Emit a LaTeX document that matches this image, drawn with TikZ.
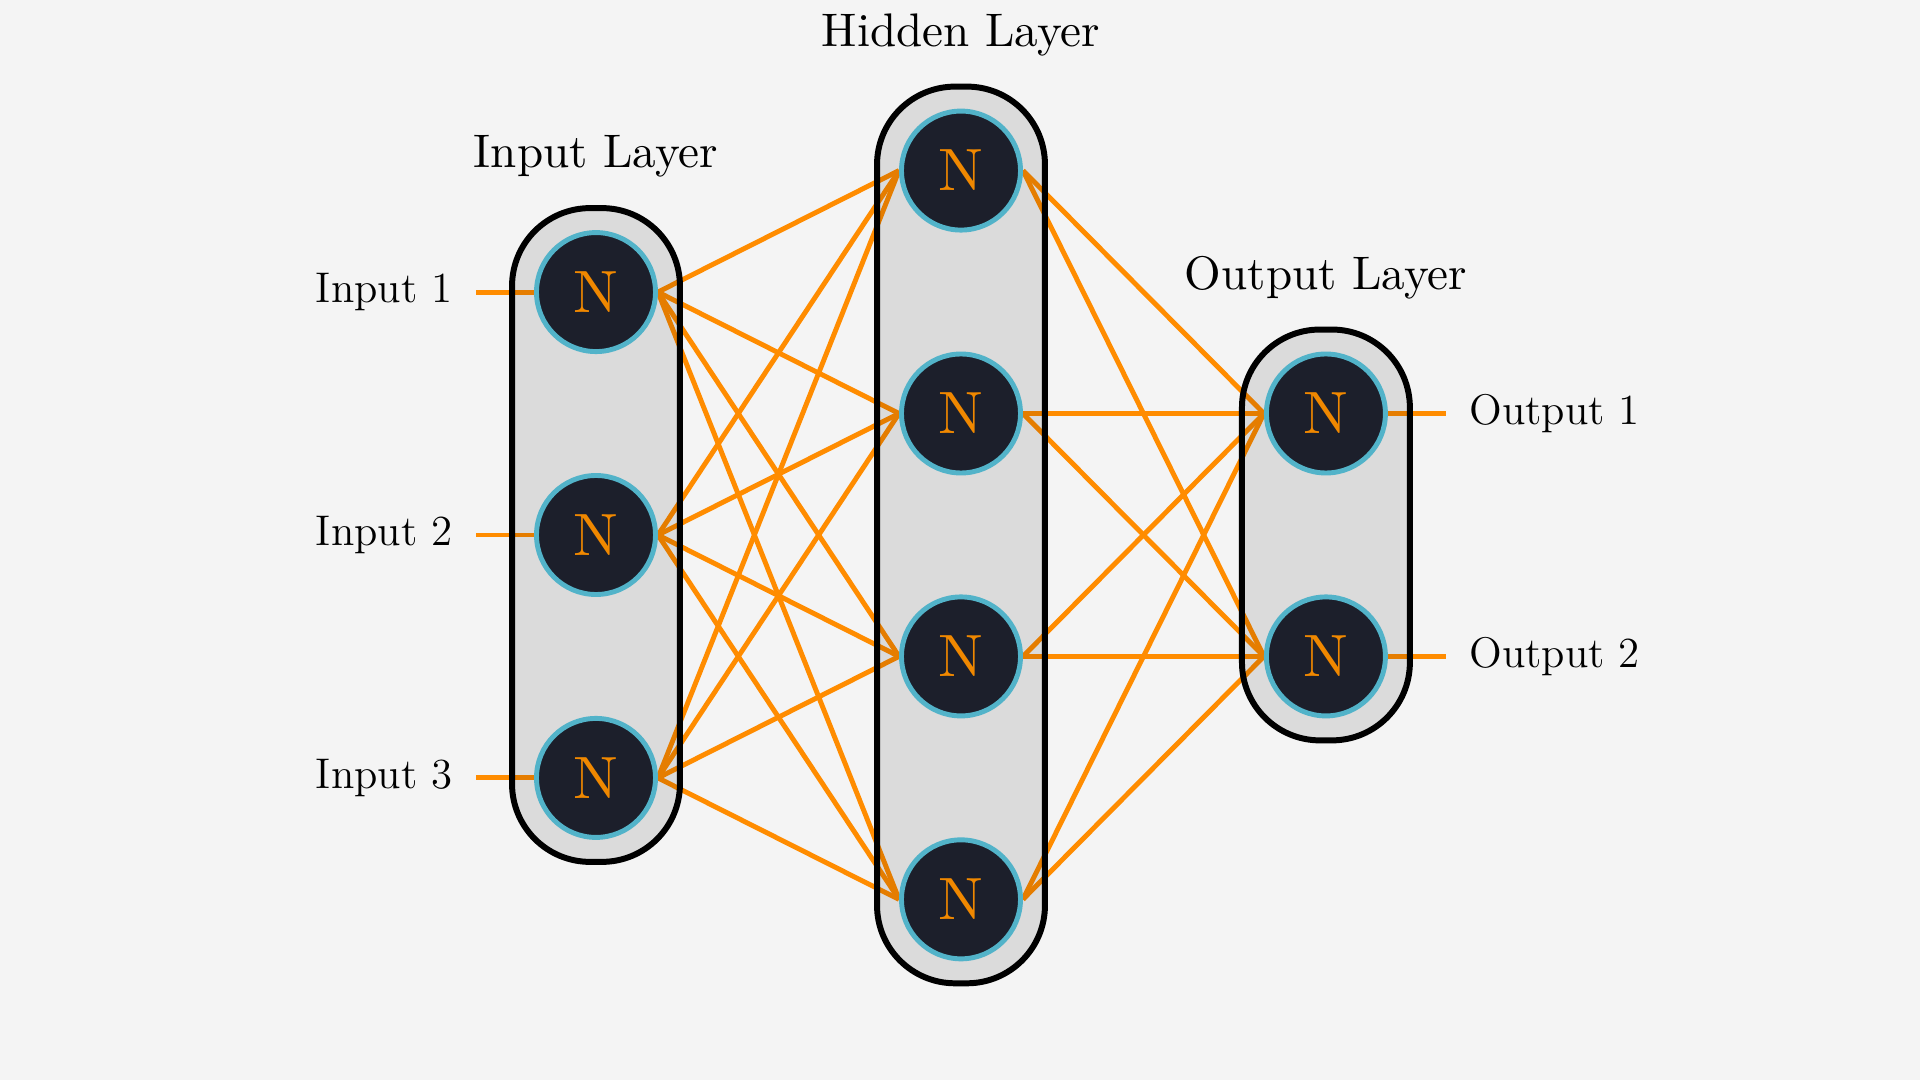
\documentclass[tikz,border=0pt]{standalone}
\usepackage{tikz}
\usetikzlibrary{positioning,fit}
\definecolor{bgcol}{HTML}{F4F4F4}
\definecolor{navy}{HTML}{1C1F2B}
\definecolor{ringblue}{HTML}{52B3C9}
\definecolor{wireorange}{HTML}{FF8C00}
\definecolor{ntext}{HTML}{F08800}
\pgfdeclarelayer{bg}
\pgfdeclarelayer{wires}
\pgfdeclarelayer{boxes}
\pgfsetlayers{bg,wires,boxes,main}
\tikzset{
  neuron/.style   = {circle, draw=ringblue, line width=1.4pt, fill=navy, minimum size=1.19cm,
                     inner sep=0pt, text=ntext},
  ntxt/.style     = {scale=1.7, font=\normalsize, text=ntext, inner sep=0pt},
  layerbox/.style = {draw, line width=1.7pt, rounded corners=0.78cm, fill=black,
                     fill opacity=0.1, inner sep=0.22cm},
  iolabel/.style  = {inner sep=0.23cm, font=\fontsize{12.2}{14}\selectfont},
  title/.style    = {scale=1.34, font=\normalsize},
  conn/.style     = {draw=wireorange, line width=1.4pt},
}
\begin{document}
\begin{tikzpicture}[node distance=1.19cm]
  \begin{pgfonlayer}{bg}
    \fill[bgcol] (-9.6,-5.4) rectangle (9.6,5.4);
  \end{pgfonlayer}
  \useasboundingbox (-9.6,-5.4) rectangle (9.6,5.4);

  % neurons
  \node[neuron] (i2) at (-3.64,0.05) {};
  \node[neuron, above=of i2] (i1) {};
  \node[neuron, below=of i2] (i3) {};
  \node[neuron] (h2) at (0.01,1.265) {};
  \node[neuron, above=of h2] (h1) {};
  \node[neuron, below=of h2] (h3) {};
  \node[neuron, below=of h3] (h4) {};
  \node[neuron, right=2.41cm of h2] (o1) {};
  \node[neuron, below=of o1] (o2) {};
  \node[ntxt] at (i1) {N}; \node[ntxt] at (i2) {N}; \node[ntxt] at (i3) {N};
  \node[ntxt] at (h1) {N}; \node[ntxt] at (h2) {N}; \node[ntxt] at (h3) {N};
  \node[ntxt] at (h4) {N}; \node[ntxt] at (o1) {N}; \node[ntxt] at (o2) {N};

  % inputs and outputs
  \node[iolabel, left=0.58cm of i1] (x1) {Input 1};
  \node[iolabel, left=0.58cm of i2] (x2) {Input 2};
  \node[iolabel, left=0.58cm of i3] (x3) {Input 3};
  \node[iolabel, right=0.58cm of o1] (y1) {Output 1};
  \node[iolabel, right=0.58cm of o2] (y2) {Output 2};

  % layer boxes
  \begin{pgfonlayer}{boxes}
    \node[layerbox, fit=(i1)(i3)] (inbox) {};
    \node[layerbox, fit=(h1)(h4)] (hidbox) {};
    \node[layerbox, fit=(o1)(o2)] (outbox) {};
  \end{pgfonlayer}
  \node[title, above=0.11cm of inbox] (intitle) {Input Layer};
  \node[title, above=0.11cm of hidbox] (hidtitle) {Hidden Layer};
  \node[title, above=0.11cm of outbox] (outtitle) {Output Layer};

  % connections
  \begin{pgfonlayer}{wires}
    \draw[conn] (x1) -- (i1); \draw[conn] (x2) -- (i2); \draw[conn] (x3) -- (i3);
    \draw[conn] (o1) -- (y1); \draw[conn] (o2) -- (y2);
    \draw[conn] (i1.east) -- (h1.west); \draw[conn] (i1.east) -- (h2.west);
    \draw[conn] (i1.east) -- (h3.west); \draw[conn] (i1.east) -- (h4.west);
    \draw[conn] (i2.east) -- (h1.west); \draw[conn] (i2.east) -- (h2.west);
    \draw[conn] (i2.east) -- (h3.west); \draw[conn] (i2.east) -- (h4.west);
    \draw[conn] (i3.east) -- (h1.west); \draw[conn] (i3.east) -- (h2.west);
    \draw[conn] (i3.east) -- (h3.west); \draw[conn] (i3.east) -- (h4.west);
    \draw[conn] (h1.east) -- (o1.west); \draw[conn] (h1.east) -- (o2.west);
    \draw[conn] (h2.east) -- (o1.west); \draw[conn] (h2.east) -- (o2.west);
    \draw[conn] (h3.east) -- (o1.west); \draw[conn] (h3.east) -- (o2.west);
    \draw[conn] (h4.east) -- (o1.west); \draw[conn] (h4.east) -- (o2.west);
  \end{pgfonlayer}
\end{tikzpicture}
\end{document}
